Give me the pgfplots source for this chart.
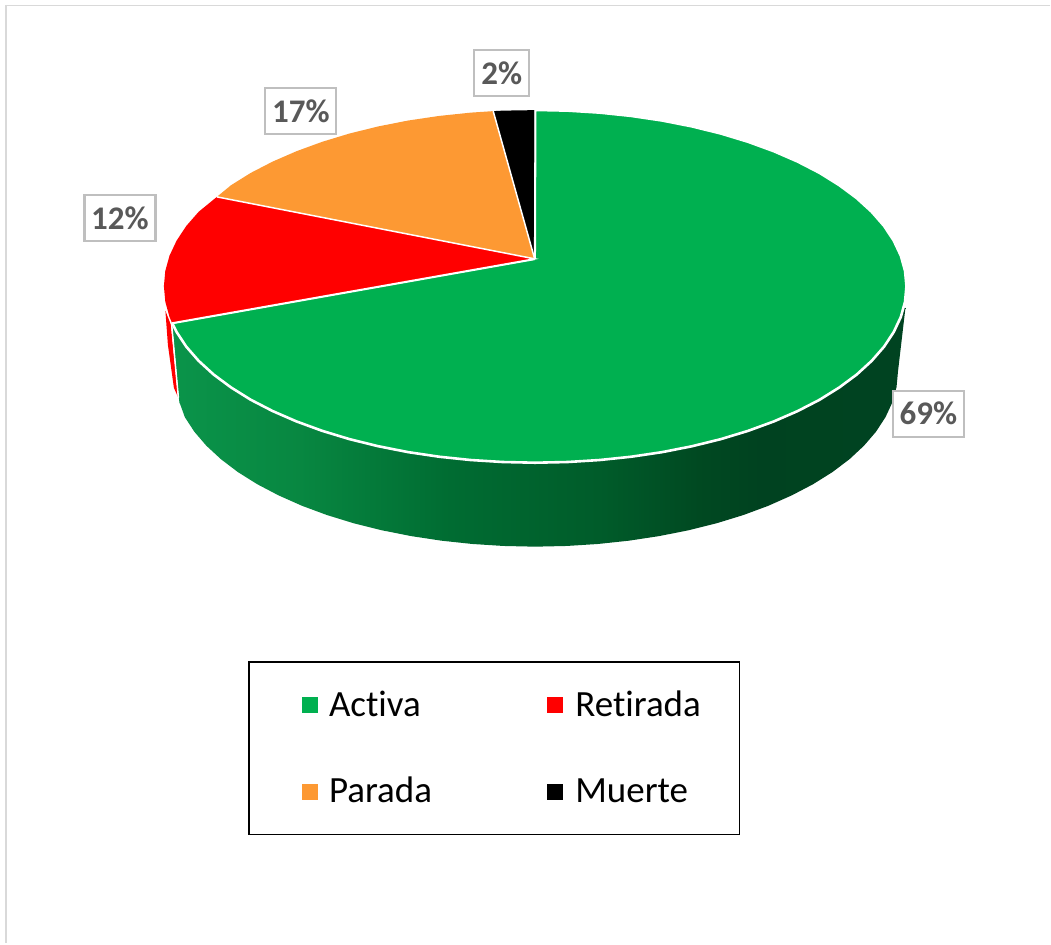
\documentclass[border=0pt]{standalone}
\usepackage{pgfplots}
\pgfplotsset{compat=1.18}
\usepackage{fontspec}
\setmainfont{Carlito}[Ligatures=NoCommon]
\definecolor{gActiva}{RGB}{0,176,80}
\definecolor{oParada}{RGB}{253,153,51}
\definecolor{lblgrey}{RGB}{89,89,89}
\definecolor{boxgrey}{RGB}{191,191,191}
\definecolor{framegrey}{RGB}{217,217,217}
\pgfdeclarehorizontalshading{sideshade}{100bp}{
  rgb(0bp)=(0.04,0.58,0.29);
  rgb(25bp)=(0.04,0.58,0.29);
  rgb(33.7bp)=(0.03,0.53,0.255);
  rgb(43.9bp)=(0,0.424,0.196);
  rgb(54.2bp)=(0,0.36,0.165);
  rgb(61bp)=(0,0.285,0.13);
  rgb(65bp)=(0,0.26,0.125);
  rgb(100bp)=(0,0.275,0.14)}
\begin{document}
\begin{tikzpicture}
\begin{axis}[
  scale only axis, width=1051pt, height=944pt,
  xmin=0, xmax=1051, ymin=0, ymax=944, y dir=reverse,
  hide axis, clip=false]
\path (axis cs:0,0) rectangle (axis cs:1051,944);
% frame
\addplot[framegrey, line width=1.3pt] coordinates {(1051,5.5) (6,5.5)};
\addplot[framegrey, line width=2pt] coordinates {(6,5) (6,944)};
% side wall
\addplot[draw=none, shade, shading=sideshade] coordinates {
(172,323)(179.5,403)(180.5,405)(184.9,417.3)(194.4,431.9)(206.5,446)(221.1,459.5)(238.1,472.4)(257.4,484.5)(278.8,495.7)(302.2,506.1)(327.3,515.4)(354,523.6)(382.1,530.6)(411.3,536.4)(441.6,541)(472.5,544.3)(503.9,546.3)(535.5,547)(567.1,546.3)(598.5,544.3)(629.4,541)(659.7,536.4)(688.9,530.6)(717,523.6)(743.7,515.4)(768.8,506.1)(792.2,495.7)(813.6,484.5)(832.9,472.4)(850,459.5)(864.5,446)(876.6,431.9)(886.1,417.3)(893,402.4)(897.1,387.3)(898.5,372)(906,308)(535,300)(172,323)};
% red sliver
\addplot[draw=none, fill=red] coordinates {(165.5,311)(171,325)(178,397)(174,388)(168,345)(165.5,311)};
\addplot[white, line width=1.5pt] coordinates {(171.5,322)(178.5,398)};
% Activa
\addplot[draw=white, line width=2.6pt, fill=gActiva, line join=round] coordinates {
(535,259)(535.5,110)(567.9,110.7)(600,112.7)(631.6,116)(662.6,120.6)(692.5,126.5)(721.3,133.6)(748.6,141.9)(774.3,151.3)(798.2,161.7)(820.1,173)(839.8,185.3)(857.2,198.2)(872.2,211.9)(884.6,226.1)(894.3,240.8)(901.4,255.9)(905.6,271.1)(907,286.5)(905.6,301.9)(901.4,317.1)(894.3,332.2)(884.6,346.9)(872.2,361.1)(857.2,374.8)(839.8,387.7)(820.1,400)(798.2,411.3)(774.3,421.7)(748.6,431.1)(721.3,439.4)(692.5,446.5)(662.6,452.4)(631.6,457)(600,460.3)(567.9,462.3)(535.5,463)(503.1,462.3)(471,460.3)(439.4,457)(408.4,452.4)(378.5,446.5)(349.7,439.4)(322.4,431.1)(296.7,421.7)(272.8,411.3)(250.9,400)(231.2,387.7)(213.8,374.8)(198.8,361.1)(186.4,346.9)(176.7,332.2)(172.2,323.2)(535,259)};
% Retirada
\addplot[draw=none, fill=red] coordinates {
(535,259)(172.2,323.2)(169.6,317.1)(165.4,301.9)(164,286.5)(165.4,271.1)(169.6,255.9)(176.7,240.8)(186.4,226.1)(198.8,211.9)(217,197)(535,259)};
% Parada
\addplot[draw=none, fill=oParada] coordinates {
(535,259)(217,197)(231.2,185.3)(250.9,173)(272.8,161.7)(296.7,151.3)(322.4,141.9)(349.7,133.6)(378.5,126.5)(408.4,120.6)(439.4,116)(471,112.7)(493.5,111.2)(535,259)};
% Muerte
\addplot[draw=none, fill=black] coordinates {
(535,259)(493.5,111.2)(503.1,110.7)(535,110.2)(535,259)};
% separators
\addplot[white, line width=1.5pt] coordinates {(172.2,323.2)(535,259)(217,197)};
\addplot[white, line width=1.5pt] coordinates {(535,259)(493.5,111.2)};
\addplot[white, line width=1.5pt] coordinates {(535,259)(535.5,110)};
% data labels
\tikzset{lab/.style={draw=boxgrey, line width=2.2pt, fill=white, text=lblgrey, font=\fontsize{33}{36}\selectfont\bfseries, inner sep=0pt, align=center, minimum height=46pt, anchor=center}}
\node[lab, minimum width=71pt] at (axis cs:929,414) {69\%};
\node[lab, minimum width=71pt] at (axis cs:120,218) {12\%};
\node[lab, minimum width=71pt] at (axis cs:301,111) {17\%};
\node[lab, minimum width=55pt] at (axis cs:502,73) {2\%};
% legend
\draw[black, line width=1.8pt] (axis cs:249,662) rectangle (axis cs:740,835);
\addplot[gActiva, only marks, mark=square*, mark size=7.5pt, mark options={draw=gActiva, fill=gActiva}] coordinates {(309.5,705.5)};
\addplot[red, only marks, mark=square*, mark size=7.5pt, mark options={draw=red, fill=red}] coordinates {(555,705.5)};
\addplot[oParada, only marks, mark=square*, mark size=7.5pt, mark options={draw=oParada, fill=oParada}] coordinates {(309.5,792)};
\addplot[black, only marks, mark=square*, mark size=7.5pt, mark options={draw=black, fill=black}] coordinates {(555,792)};
\tikzset{leg/.style={anchor=base west, inner sep=0pt, font=\fontsize{37}{40}\selectfont}}
\node[leg] at (axis cs:329,717) {Activa};
\node[leg] at (axis cs:575.5,717) {Retirada};
\node[leg] at (axis cs:329,803) {Parada};
\node[leg] at (axis cs:575.5,803) {Muerte};
\end{axis}
\end{tikzpicture}
\end{document}
